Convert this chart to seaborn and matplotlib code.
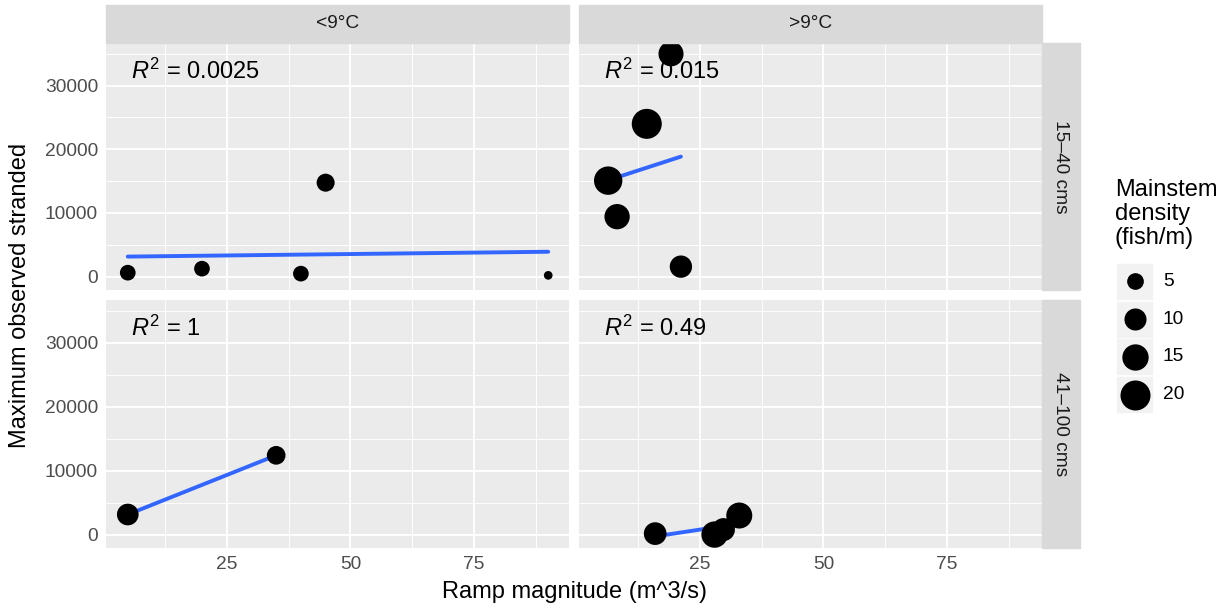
import numpy as np
import pandas as pd
import matplotlib
matplotlib.use("Agg")
import matplotlib.pyplot as plt
from matplotlib.patches import Rectangle
import seaborn as sns

# ---------------- data ----------------
temp_levels = ["<9°C", ">9°C"]
flow_levels = ["15–40 cms", "41–100 cms"]

temp = ["<9°C"] * 5 + [">9°C"] * 5 + ["<9°C"] * 2 + [">9°C"] * 4
flow = ["15–40 cms"] * 10 + ["41–100 cms"] * 6
ramp = [5, 20, 40, 45, 90,
        19.2, 14.3, 6.5, 8.3, 21.2,
        5, 35,
        16, 28, 29.8, 33]
stranded = [620, 1250, 470, 14760, 200,
            35000, 24000, 15080, 9420, 1570,
            3140, 12400,
            150, 0, 780, 2980]
density = [4.2, 4.2, 4.2, 6.1, 0.1,
           13.4, 20.4, 17.7, 13.7, 10.3,
           9.6, 6.7,
           10.7, 15.0, 11.0, 14.6]
r2_labels = {("<9°C", "15–40 cms"): "0.0025",
             (">9°C", "15–40 cms"): "0.015",
             ("<9°C", "41–100 cms"): "1",
             (">9°C", "41–100 cms"): "0.49"}
legend_breaks = [5, 10, 15, 20]
x_ticks = [25, 50, 75]
y_ticks = [0, 10000, 20000, 30000]

df = pd.DataFrame({"temp": temp, "flow": flow, "ramp": ramp,
                   "stranded": stranded, "density": density})

# ---------------- style ----------------
sns.set_style("white")
plt.rcParams["font.family"] = ["Liberation Sans", "DejaVu Sans"]
plt.rcParams["mathtext.fontset"] = "custom"
plt.rcParams["mathtext.rm"] = "Liberation Sans"
plt.rcParams["mathtext.it"] = "Liberation Sans:italic"

W, H = 1225, 611
fig = plt.figure(figsize=(W / 100, H / 100), dpi=100)
fig.patch.set_facecolor("white")

SIZES = (37, 467)
SNORM = (0, 20)

def size_of(v):
    return SIZES[0] + (SIZES[1] - SIZES[0]) * (v - SNORM[0]) / (SNORM[1] - SNORM[0])

def fx(px):
    return px / W

def fy(py):
    return 1 - py / H

col_x = [(106, 569), (579, 1042)]
row_y = [(43, 290), (300, 548)]
XLIM = (0.6, 94.2)
YLIM = (-2100, 36700)
strip_color = "#D9D9D9"
tick_color = "#4D4D4D"
fs_small = 13.8
fs_big = 17

for ri, fl in enumerate(flow_levels):
    for ci, tp in enumerate(temp_levels):
        x0, x1 = col_x[ci]
        y0, y1 = row_y[ri]
        ax = fig.add_axes([fx(x0), fy(y1), fx(x1 - x0), (y1 - y0) / H])
        sub = df[(df.temp == tp) & (df.flow == fl)]
        ax.set_facecolor("#EBEBEB")
        for s in ax.spines.values():
            s.set_visible(False)
        # grid
        ax.set_xticks(x_ticks)
        ax.set_yticks(y_ticks)
        ax.set_xticks([12.5, 37.5, 62.5, 87.5], minor=True)
        ax.set_yticks([5000, 15000, 25000, 35000], minor=True)
        ax.grid(True, which="major", color="white", lw=1.3)
        ax.grid(True, which="minor", color="white", lw=0.65)
        ax.set_axisbelow(True)
        sns.regplot(data=sub, x="ramp", y="stranded", ax=ax, scatter=False,
                    ci=None, color="#3366FF", line_kws={"lw": 2.8}, truncate=True)
        sns.scatterplot(data=sub, x="ramp", y="stranded", size="density",
                        sizes=SIZES, size_norm=SNORM, color="black",
                        linewidth=0, legend=False, ax=ax, zorder=3)
        ax.set_xlim(*XLIM)
        ax.set_ylim(*YLIM)
        ax.set_xlabel("")
        ax.set_ylabel("")
        ax.tick_params(which="minor", length=0)
        ax.tick_params(which="major", length=3.2, width=0.8, color="#333333",
                       labelcolor=tick_color, labelsize=fs_small, pad=2.5)
        if ri == 0:
            ax.tick_params(axis="x", which="major", length=0, labelbottom=False)
        if ci == 1:
            ax.tick_params(axis="y", which="major", length=0, labelleft=False)
        ax.text(0.053, 0.854, r"$R^2$" + " = " + r2_labels[(tp, fl)],
                transform=ax.transAxes, ha="left", va="baseline",
                fontsize=fs_big, color="black")

# strips
for ci, tp in enumerate(temp_levels):
    x0, x1 = col_x[ci]
    fig.patches.append(Rectangle((fx(x0), fy(43)), fx(x1 - x0), (43 - 5) / H,
                                 transform=fig.transFigure, color=strip_color, zorder=0))
    fig.text(fx((x0 + x1) / 2), fy(24), tp, ha="center", va="center",
             fontsize=fs_small, color="#1A1A1A")
for ri, fl in enumerate(flow_levels):
    y0, y1 = row_y[ri]
    fig.patches.append(Rectangle((fx(1042), fy(y1)), fx(1080 - 1042), (y1 - y0) / H,
                                 transform=fig.transFigure, color=strip_color, zorder=0))
    fig.text(fx(1061), fy((y0 + y1) / 2), fl, ha="center", va="center",
             rotation=-90, fontsize=fs_small, color="#1A1A1A")

# axis titles
fig.text(fx(574), fy(592), "Ramp magnitude (m^3/s)", ha="center", va="center",
         fontsize=fs_big, color="black")
fig.text(fx(20), fy(295), "Maximum observed stranded", ha="center", va="center",
         rotation=90, fontsize=fs_big, color="black")

# legend
lax = fig.add_axes([fx(1100), fy(420), fx(125), (420 - 170) / H])
lax.set_xlim(1100, 1225)
lax.set_ylim(420, 170)
lax.axis("off")
lax.text(1115, 179, "Mainstem\ndensity\n(fish/m)", ha="left", va="top",
         fontsize=fs_big, color="black", linespacing=1.12)
key_top = 264
for i, b in enumerate(legend_breaks):
    ky = key_top + i * 37.7
    lax.add_patch(Rectangle((1117, ky), 35, 35, color="#F2F2F2", zorder=1))
    lax.scatter([1134.5], [ky + 17.5], s=size_of(b), color="black", linewidth=0, zorder=2)
    lax.text(1163, ky + 17.5, str(b), ha="left", va="center",
             fontsize=fs_small, color="black")

fig.savefig("out.png", dpi=100)
